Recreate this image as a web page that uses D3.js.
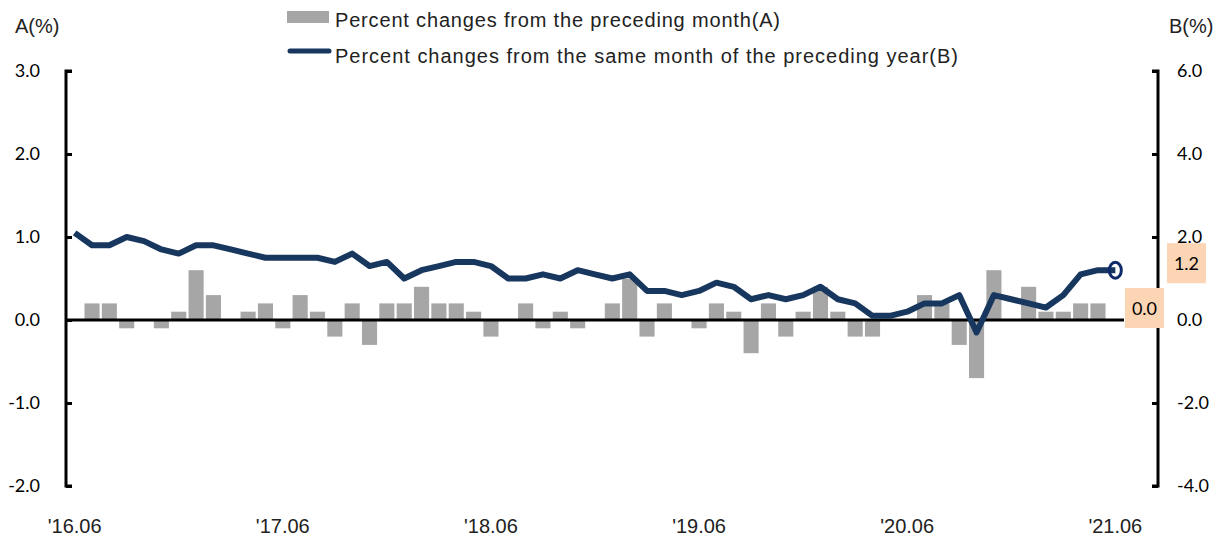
<!DOCTYPE html>
<html>
<head>
<meta charset="utf-8">
<script src="https://cdn.jsdelivr.net/npm/d3@7"></script>
<style>
  body { margin: 0; background: #fff; }
  svg { display: block; }
  .num { font-family: Lato, "Open Sans", sans-serif; font-size: 18px; fill: #000; }
  .narrow { font-family: "Liberation Sans Narrow", "Arial Narrow", "Liberation Sans", sans-serif; font-size: 20px; fill: #222; }
</style>
</head>
<body>
<svg width="1227" height="540"></svg>
<script>
//Chart data
const startMonth = new Date(2016, 5, 1);
const endMonth = new Date(2021, 5, 1);
const tickLabels = ["'16.06", "'17.06", "'18.06", "'19.06", "'20.06", "'21.06"];
const leftTicks = [-2, -1, 0, 1, 2, 3];
const rightTicks = [-4, -2, 0, 2, 4, 6];

//Percent changes from the preceding month (A)
const monthChange = [
    0, 0.2, 0.2, -0.1, 0, -0.1, 0.1, 0.6, 0.3, 0, 0.1, 0.2,
    -0.1, 0.3, 0.1, -0.2, 0.2, -0.3, 0.2, 0.2, 0.4, 0.2, 0.2, 0.1,
    -0.2, 0, 0.2, -0.1, 0.1, -0.1, 0, 0.2, 0.5, -0.2, 0.2, 0,
    -0.1, 0.2, 0.1, -0.4, 0.2, -0.2, 0.1, 0.4, 0.1, -0.2, -0.2, 0,
    0, 0.3, 0.2, -0.3, -0.7, 0.6, 0, 0.4, 0.1, 0.1, 0.2, 0.2,
    0
];

//Percent changes from the same month of the preceding year (B)
const yearChange = [
    2.1, 1.8, 1.8, 2.0, 1.9, 1.7, 1.6, 1.8, 1.8, 1.7, 1.6, 1.5,
    1.5, 1.5, 1.5, 1.4, 1.6, 1.3, 1.4, 1.0, 1.2, 1.3, 1.4, 1.4,
    1.3, 1.0, 1.0, 1.1, 1.0, 1.2, 1.1, 1.0, 1.1, 0.7, 0.7, 0.6,
    0.7, 0.9, 0.8, 0.5, 0.6, 0.5, 0.6, 0.8, 0.5, 0.4, 0.1, 0.1,
    0.2, 0.4, 0.4, 0.6, -0.3, 0.6, 0.5, 0.4, 0.3, 0.6, 1.1, 1.2,
    1.2
];

const svg = d3.select("svg");

//Month categories '16.06 .. '21.06
const months = d3.timeMonth.range(startMonth, d3.timeMonth.offset(endMonth, 1));
const fmt = d3.timeFormat("%y.%m");
const rows = months.map((m, i) => ({
    key: fmt(m),
    a: monthChange[i],
    b: yearChange[i]
}));

//Layout
const plotLeft = 66, plotRight = 1124;
const plotTop = 71, plotBottom = 486;
const leftAxisX = 66, rightAxisX = 1158;

const x = d3.scaleBand()
    .domain(rows.map(d => d.key))
    .range([plotLeft, plotRight])
    .paddingInner(0.13)
    .paddingOuter(0.065);
const cx = k => x(k) + x.bandwidth() / 2;

const yA = d3.scaleLinear().domain([-2, 3]).range([plotBottom, plotTop]);
const yB = d3.scaleLinear().domain([-4, 6]).range([plotBottom, plotTop]);

//Bars (A)
svg.append("g")
    .selectAll("rect")
    .data(rows)
    .enter()
    .append("rect")
    .attr("x", d => x(d.key))
    .attr("y", d => yA(Math.max(0, d.a)))
    .attr("width", x.bandwidth())
    .attr("height", d => Math.abs(yA(d.a) - yA(0)))
    .attr("fill", "#a6a6a6");

//Zero line
svg.append("line")
    .attr("x1", leftAxisX)
    .attr("x2", plotRight)
    .attr("y1", yA(0))
    .attr("y2", yA(0))
    .attr("stroke", "#000")
    .attr("stroke-width", 3);

//Line (B)
const line = d3.line()
    .x(d => cx(d.key))
    .y(d => yB(d.b));

svg.append("path")
    .datum(rows)
    .attr("d", line)
    .attr("fill", "none")
    .attr("stroke", "#17375e")
    .attr("stroke-width", 6)
    .attr("stroke-linejoin", "round");

//Marker on the last point
const last = rows[rows.length - 1];
svg.append("ellipse")
    .attr("cx", cx(last.key))
    .attr("cy", yB(last.b))
    .attr("rx", 6)
    .attr("ry", 8)
    .attr("fill", "none")
    .attr("stroke", "#0d2a6b")
    .attr("stroke-width", 3);

//Left axis
const leftAxis = svg.append("g")
    .attr("transform", `translate(${leftAxisX},0)`)
    .call(d3.axisRight(yA).tickValues(leftTicks).tickSize(6).tickFormat(""));
leftAxis.select(".domain").attr("stroke", "#000").attr("stroke-width", 3)
    .attr("d", `M6,${plotTop}H0V${plotBottom}H6`);
leftAxis.selectAll(".tick line").attr("stroke", "#000").attr("stroke-width", 3);

svg.append("g")
    .selectAll("text")
    .data(leftTicks)
    .enter()
    .append("text")
    .attr("class", "num")
    .attr("x", 40)
    .attr("y", d => yA(d) + 6)
    .attr("text-anchor", "end")
    .text(d => d.toFixed(1));

//Right axis
const rightAxis = svg.append("g")
    .attr("transform", `translate(${rightAxisX},0)`)
    .call(d3.axisLeft(yB).tickValues(rightTicks).tickSize(6).tickFormat(""));
rightAxis.select(".domain").attr("stroke", "#000").attr("stroke-width", 3)
    .attr("d", `M-6,${plotTop}H0V${plotBottom}H-6`);
rightAxis.selectAll(".tick line").attr("stroke", "#000").attr("stroke-width", 3);

svg.append("g")
    .selectAll("text")
    .data(rightTicks)
    .enter()
    .append("text")
    .attr("class", "num")
    .attr("x", 1177)
    .attr("y", d => yB(d) + 6)
    .text(d => d.toFixed(1));

//Axis unit labels
svg.append("text").attr("class", "narrow")
    .attr("x", 15).attr("y", 33).attr("font-size", "19px").text("A(%)");
svg.append("text").attr("class", "narrow")
    .attr("x", 1169).attr("y", 33).attr("font-size", "19px").text("B(%)");

//X labels
svg.append("g")
    .selectAll("text")
    .data(tickLabels)
    .enter()
    .append("text")
    .attr("class", "narrow")
    .attr("x", d => cx(d.slice(1)))
    .attr("y", 533)
    .attr("text-anchor", "middle")
    .text(d => d);

//Value boxes for the last month
const boxes = [
    { text: last.b.toFixed(1), x: 1167, y: yB(last.b) - 27 },
    { text: last.a.toFixed(1), x: 1125, y: yA(last.a) - 32 }
];
const box = svg.append("g").selectAll("g")
    .data(boxes)
    .enter()
    .append("g")
    .attr("transform", d => `translate(${d.x},${d.y})`);
box.append("rect")
    .attr("width", 39)
    .attr("height", 40)
    .attr("fill", "#fcd5b4");
box.append("text")
    .attr("class", "num")
    .attr("x", 19.5)
    .attr("y", 27)
    .attr("text-anchor", "middle")
    .attr("font-size", "20px")
    .text(d => d.text);

//Legend
const legend = svg.append("g");
legend.append("rect")
    .attr("x", 287).attr("y", 11)
    .attr("width", 42).attr("height", 12)
    .attr("fill", "#a6a6a6");
legend.append("line")
    .attr("x1", 290).attr("x2", 329)
    .attr("y1", 51).attr("y2", 51)
    .attr("stroke", "#17375e")
    .attr("stroke-width", 5)
    .attr("stroke-linecap", "round");
legend.append("text").attr("class", "narrow")
    .attr("x", 335).attr("y", 27)
    .attr("textLength", 445)
    .attr("lengthAdjust", "spacing")
    .text("Percent changes from the preceding month(A)");
legend.append("text").attr("class", "narrow")
    .attr("x", 335).attr("y", 63)
    .attr("textLength", 623)
    .attr("lengthAdjust", "spacing")
    .text("Percent changes from the same month of the preceding year(B)");
</script>
</body>
</html>
